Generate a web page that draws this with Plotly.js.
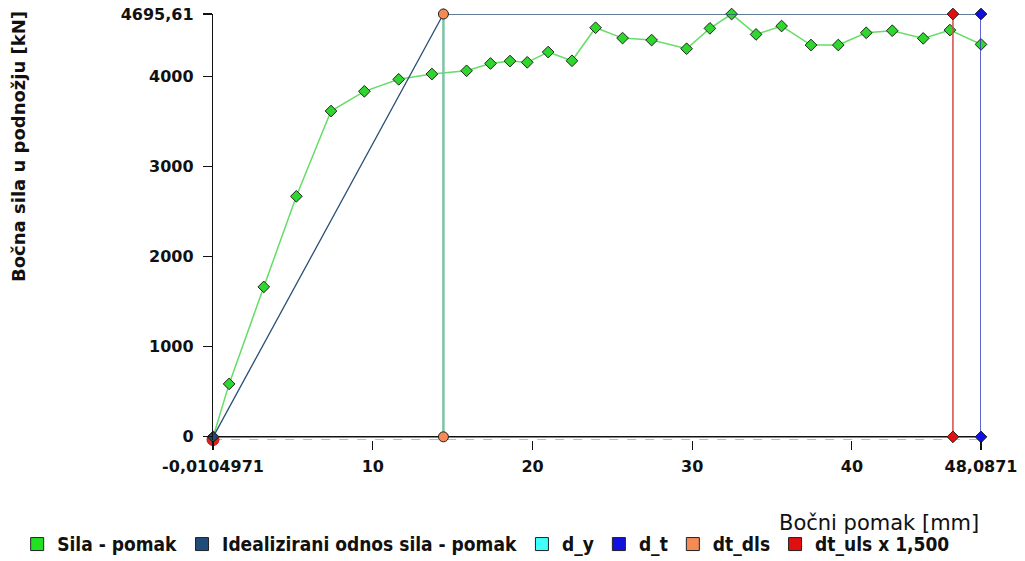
<!DOCTYPE html>
<html>
<head>
<meta charset="utf-8">
<script src="https://cdn.plot.ly/plotly-3.0.1.min.js"></script>
<style>html,body{margin:0;padding:0;background:#fff;}#chart{width:1025px;height:561px;}</style>
</head>
<body>
<div id="chart"></div>
<script>
// Sila - pomak (capacity curve)
const silaX = [0, 1.0, 3.17, 5.21, 7.38, 9.47, 11.62, 13.7, 15.87, 17.37, 18.59, 19.67, 20.98, 22.47, 23.95, 25.64, 27.46, 29.65, 31.11, 32.47, 34.0, 35.6, 37.44, 39.15, 40.9, 42.53, 44.47, 46.14, 48.0871];
const silaY = [0, 588, 1665, 2671, 3618, 3837, 3970, 4029, 4065, 4146, 4173, 4159, 4273, 4176, 4543, 4428, 4406, 4310, 4536, 4695, 4469, 4562, 4351, 4351, 4487, 4510, 4425, 4517, 4358];
// Idealizirani odnos sila - pomak
const idealX = [0, 14.42, 48.0871];
const idealY = [0, 4695.61, 4695.61];
// d_y
const dyX = [14.42, 14.42];
const dyY = [0, 4695.61];
// d_t
const dtX = [48.0871, 48.0871];
const dtY = [0, 4695.61];
// dt_dls
const dlsX = [14.42, 14.42];
const dlsY = [0, 4695.61];
const dlsLineX = [0, 48.0871];
const dlsLineY = [-35, -35];
// dt_uls x 1,500
const ulsX = [46.33, 46.33];
const ulsY = [0, 4695.61];
const ulsOriginX = [-0.0104971];
const ulsOriginY = [-30];
// axis ticks
const xTickVals = [-0.0104971, 10, 20, 30, 40, 48.0871];
const xTickText = ['-0,0104971', '10', '20', '30', '40', '48,0871'];
const yTickVals = [0, 1000, 2000, 3000, 4000, 4695.61];
const yTickText = ['0', '1000', '2000', '3000', '4000', '4695,61'];
// legend
const legendNames = ['Sila - pomak', 'Idealizirani odnos sila - pomak', 'd_y', 'd_t', 'dt_dls', 'dt_uls x 1,500'];
const legendColors = ['#22e022', '#1f4c7a', '#40ffff', '#1010e0', '#f58a55', '#e01010'];

const dk = '#222';
const traces = [
  {x: dlsLineX, y: dlsLineY, mode: 'lines', line: {color: '#e8945e', width: 1.5, dash: 'dash'}, showlegend: false, hoverinfo: 'skip'},
  {x: ulsOriginX, y: ulsOriginY, mode: 'markers', marker: {color: '#e02020', size: 12, symbol: 'circle', line: {color: '#c01010', width: 1}}, showlegend: false, cliponaxis: false},
  {x: silaX, y: silaY, mode: 'lines+markers', line: {color: '#66dd66', width: 1.5}, marker: {color: '#2ed62e', size: 9, symbol: 'diamond', line: {color: dk, width: 1}}, showlegend: false, cliponaxis: false},
  {x: idealX, y: idealY, mode: 'lines+markers', line: {color: '#2b5077', width: 1.3}, marker: {color: '#1f4c7a', size: 8, symbol: 'diamond', line: {color: dk, width: 1}}, showlegend: false, cliponaxis: false},
  {x: dyX, y: dyY, mode: 'lines', line: {color: '#7cc4a6', width: 2.5}, showlegend: false},
  {x: ulsX, y: ulsY, mode: 'lines+markers', line: {color: '#d84848', width: 1.5}, marker: {color: '#e01010', size: 9, symbol: 'diamond', line: {color: dk, width: 1}}, showlegend: false, cliponaxis: false},
  {x: dtX, y: dtY, mode: 'lines+markers', line: {color: '#3030c0', width: 1.5}, marker: {color: '#1010e0', size: 9, symbol: 'diamond', line: {color: dk, width: 1}}, showlegend: false, cliponaxis: false},
  {x: dlsX, y: dlsY, mode: 'markers', marker: {color: '#f58a55', size: 10, symbol: 'circle', line: {color: dk, width: 1}}, showlegend: false, cliponaxis: false}
];
legendNames.forEach((n, i) => {
  traces.push({x: [null], y: [null], mode: 'markers', name: n, marker: {color: legendColors[i], size: 13, symbol: 'square', line: {color: '#222', width: 1}}, showlegend: true});
});

const tickFont = {family: 'DejaVu Sans', size: 16, weight: 'bold', color: '#111'};
const layout = {
  width: 1025, height: 561,
  margin: {l: 213, r: 44, t: 14, b: 121, autoexpand: false},
  paper_bgcolor: '#fff', plot_bgcolor: '#fff',
  font: {family: 'DejaVu Sans', color: '#111'},
  xaxis: {
    range: [-0.0104971, 48.0871], tickvals: xTickVals, ticktext: xTickText,
    showgrid: false, zeroline: false, showline: false,
    ticks: 'outside', ticklen: 9, tickcolor: '#111', tickwidth: 1.2,
    ticklabelstandoff: 3, automargin: false,
    tickfont: tickFont
  },
  yaxis: {
    range: [-35, 4695.61], tickvals: yTickVals, ticktext: yTickText,
    showgrid: false, zeroline: false, showline: true, linecolor: '#111', linewidth: 1.2,
    ticks: 'outside', ticklen: 9, tickcolor: '#111', tickwidth: 1.2,
    ticklabelstandoff: 6, automargin: false,
    tickfont: tickFont
  },
  shapes: [
    {type: 'line', xref: 'x', yref: 'y', x0: -0.0104971, x1: 48.0871, y0: 0, y1: 0, line: {color: '#111', width: 1.5}, layer: 'below'}
  ],
  annotations: [
    {text: 'Bočna sila u podnožju [kN]', xref: 'paper', yref: 'paper', x: -0.254, y: 0.69, xanchor: 'center', yanchor: 'middle', textangle: -90, showarrow: false,
     font: {family: 'DejaVu Sans', size: 18, weight: 'bold', color: '#111'}},
    {text: 'Bočni pomak [mm]', xref: 'paper', yref: 'paper', x: 1.0, y: -0.195, xanchor: 'right', yanchor: 'middle', showarrow: false,
     font: {family: 'DejaVu Sans', size: 21, color: '#111'}}
  ],
  legend: {
    orientation: 'h', x: -0.255, y: -0.2, xanchor: 'left', yanchor: 'top',
    font: {family: 'DejaVu Sans Condensed', size: 19, weight: 'bold', color: '#111'},
    itemwidth: 30, tracegroupgap: 0, bgcolor: 'rgba(0,0,0,0)'
  },
  hovermode: false
};
Plotly.newPlot('chart', traces, layout, {displayModeBar: false, staticPlot: true});
</script>
</body>
</html>
